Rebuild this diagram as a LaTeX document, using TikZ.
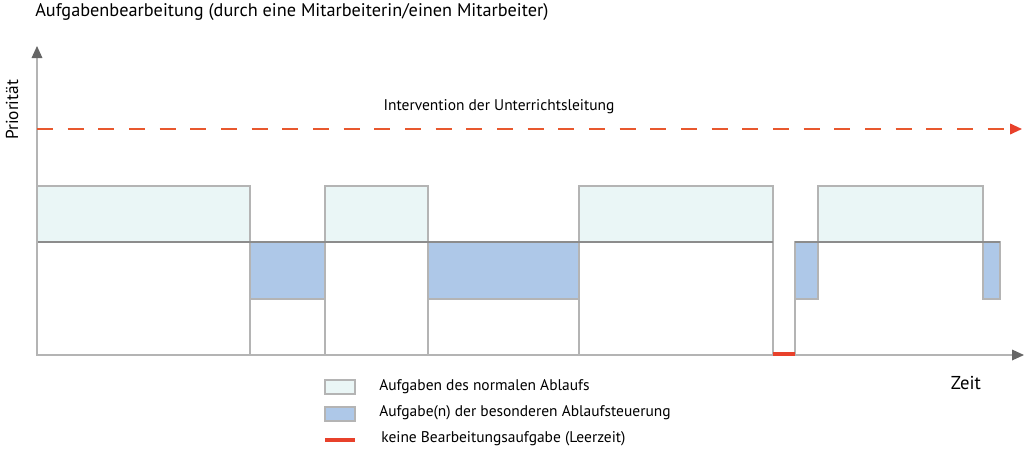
\documentclass[tikz,border=0pt]{standalone}
\usepackage{fontspec}
\setmainfont{PT Sans}
\usetikzlibrary{arrows.meta}

\definecolor{axisgray}{HTML}{B4B4B4}
\definecolor{tipgray}{HTML}{666666}
\definecolor{linegray}{HTML}{8C8C8C}
\definecolor{normalfill}{HTML}{EAF6F6}
\definecolor{specialfill}{HTML}{AEC8E8}
\definecolor{idlered}{HTML}{E8412B}
\definecolor{dashorange}{HTML}{E8582E}

\begin{document}
\begin{tikzpicture}[x=0.75pt,y=-0.75pt,
    axis/.style={draw=axisgray,line width=0.9pt,-{Triangle[length=9pt,width=8pt,color=tipgray]}},
    normaltask/.style={fill=normalfill,draw=axisgray,line width=0.9pt},
    specialtask/.style={fill=specialfill,draw=axisgray,line width=0.9pt},
    column/.style={draw=axisgray,line width=0.9pt},
    level/.style={draw=linegray,line width=0.9pt},
    idle/.style={draw=idlered,line width=3pt},
    label/.style={inner sep=0pt,font=\fontsize{11.6pt}{14pt}\selectfont}]

  \useasboundingbox (0,0) rectangle (1024,450);

  % axes
  \coordinate (origin) at (37,355);
  \coordinate (ytop) at (37,46);
  \coordinate (xend) at (1024,355);
  \coordinate (istart) at (37,129);
  \coordinate (iend) at (1022,129);

  \node[label,anchor=west,font=\fontsize{13.7pt}{16pt}\selectfont] (title) at (35,12)
    {Aufgabenbearbeitung (durch eine Mitarbeiterin/einen Mitarbeiter)};
  \node[label,rotate=90,font=\fontsize{13pt}{15pt}\selectfont] (prio) at (12,110) {Priorität};
  \node[label] (interv) at (499,107) {Intervention der Unterrichtsleitung};
  \node[label,font=\fontsize{14pt}{16pt}\selectfont] (zeit) at (966,383) {Zeit};

  % tasks of the normal procedure
  \foreach \a/\b in {37/250,325/428,579/773} {
    \draw[column] (\a,242) rectangle (\b,355);
    \draw[normaltask] (\a,186) rectangle (\b,242);
  }
  \draw[normaltask] (818,186) rectangle (983,242);

  % tasks of the special control
  \foreach \a/\b in {250/325,428/579} {
    \draw[column] (\a,299) rectangle (\b,355);
    \draw[specialtask] (\a,242) rectangle (\b,299);
  }
  \draw[column] (795,299) -- (795,355);
  \draw[specialtask] (795,242) rectangle (818,299);
  \draw[specialtask] (983,242) rectangle (1000,299);

  % priority level lines
  \draw[level] (37,242) -- (773,242);
  \draw[level] (795,242) -- (1000,242);

  \draw[axis] (origin) -- (ytop);
  \draw[axis] (origin) -- (xend);
  \draw[dashorange,line width=1.3pt,dash pattern=on 12pt off 11pt,
    -{Triangle[length=9pt,width=8pt,color=idlered]}] (istart) -- (iend);

  % idle time
  \coordinate (gapA) at (773,354);
  \coordinate (gapB) at (795,354);
  \draw[idle] (gapA) -- (gapB);

  % legend
  \draw[normaltask] (325,380) rectangle (355,394);
  \draw[specialtask] (325,407) rectangle (355,421);
  \coordinate (idleA) at (325,440);
  \coordinate (idleB) at (355,440);
  \draw[idle] (idleA) -- (idleB);
  \node[label,anchor=west] (lnormal) at (379,387) {Aufgaben des normalen Ablaufs};
  \node[label,anchor=west] (lspecial) at (379,413) {Aufgabe(n) der besonderen Ablaufsteuerung};
  \node[label,anchor=west] (lidle) at (381,439) {keine Bearbeitungsaufgabe (Leerzeit)};

\end{tikzpicture}
\end{document}
